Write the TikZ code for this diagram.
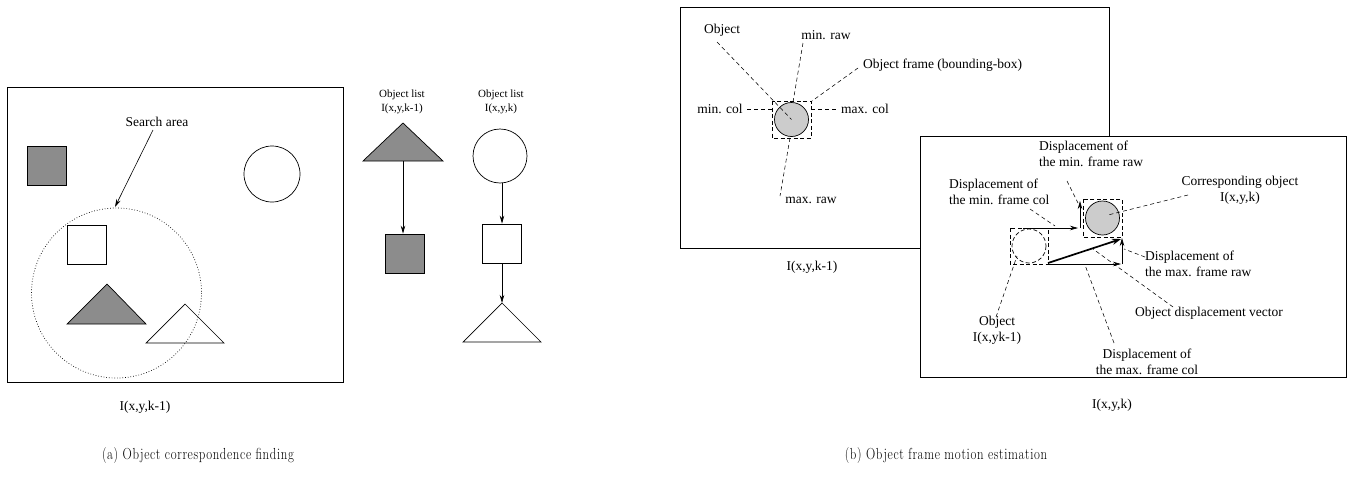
\documentclass[tikz,border=0pt]{standalone}
\usepackage{fontspec}
\setmainfont{Liberation Serif}
\newfontfamily\capfont[LetterSpace=5]{Latin Modern Roman}
\usetikzlibrary{arrows.meta}
\definecolor{dgray}{HTML}{8C8C8C}
\definecolor{lgray}{HTML}{CCCCCC}
\newcommand{\capbox}[1]{\scalebox{0.8}[1]{#1}}
\tikzset{
  frm/.style={draw, line width=0.8pt},
  shp/.style={draw, line width=0.7pt},
  sq/.style={shp, rectangle, minimum width=39pt, minimum height=39pt, inner sep=0pt},
  circ/.style={shp, circle, inner sep=0pt},
  lbl/.style={font=\fontsize{13.5}{16}\selectfont, inner sep=1pt},
  small/.style={font=\fontsize{11}{14}\selectfont, inner sep=1pt, align=center},
  capt/.style={font=\capfont\fontsize{16}{18}\selectfont},
  lead/.style={dash pattern=on 4pt off 3pt, line width=0.55pt},
  dbox/.style={draw, dash pattern=on 4pt off 2.5pt, line width=0.7pt},
  arr/.style={line width=0.7pt, -{Stealth[length=8pt,width=4.5pt]}},
  thick arr/.style={line width=1.7pt, -{Stealth[length=9pt,width=6pt]}},
}
\begin{document}
\begin{tikzpicture}[x=1pt,y=-1pt]
\useasboundingbox (0,0) rectangle (1349,477);
% ---------------- (a) ----------------
\draw[frm] (7,87) rectangle (343,382);
\node[sq, fill=dgray] (gsqA) at (47,166) {};
\node[circ, minimum size=56pt] (circA) at (272,174) {};
\draw[dotted, line width=0.7pt] (116.5,293) circle (85);
\node[sq] (wsqA) at (87,244.5) {};
\draw[shp, fill=dgray] (107,284) -- (67,324) -- (146,324) -- cycle;
\draw[shp] (185,304) -- (146,343) -- (224,343) -- cycle;
\node[lbl] (sa) at (157,122) {Search area};
\coordinate (saTip) at (115,207);
\draw[line width=0.6pt, -{Stealth[length=8pt,width=4.5pt]}] (153,130) -- (saTip);
\node[lbl] (capA1) at (145,407) {I(x,y,k-1)};
% object lists
\node[small] (ol1) at (402,102) {Object list\\I(x,y,k-1)};
\draw[shp, fill=dgray] (403,123) -- (363,161) -- (443,161) -- cycle;
\coordinate (tri1b) at (403,161);
\node[sq, fill=dgray] (gsq2) at (404.5,253.5) {};
\draw[arr] (tri1b) -- (gsq2.north -| tri1b);
\node[small] (ol2) at (501,102) {Object list\\I(x,y,k)};
\node[circ, minimum size=54pt] (c2) at (500,156) {};
\node[sq] (wsq2) at (502,243.5) {};
\draw[arr] (c2.south -| wsq2) -- (wsq2.north);
\draw[shp] (502,303) -- (463,342) -- (541,342) -- cycle;
\coordinate (tri2a) at (502,303);
\draw[arr] (wsq2.south) -- (tri2a);
\node[capt] (capA) at (198,456) {\capbox{(a) Object correspondence finding}};
% ---------------- (b) ----------------
\draw[frm] (680,7) rectangle (1109,248);
% back contents
\draw[dbox] (772,101) rectangle (811,138);
\node[circ, fill=lgray, minimum size=34pt] (objB) at (791.5,119.5) {};
\node[lbl] (tObj) at (722,30) {Object};
\node[lbl] (tMinRaw) at (826,35) {min. raw};
\node[lbl, anchor=west] (tFrame) at (862,65) {Object frame (bounding-box)};
\node[lbl] (tMinCol) at (720,109) {min. col};
\node[lbl] (tMaxCol) at (865,109) {max. col};
\node[lbl] (tMaxRaw) at (811,200) {max. raw};
\draw[lead] (717,42) -- (objB.center);
\draw[lead] (803,43) -- (793,102);
\draw[lead] (858,68) -- (812,101);
\draw[lead] (747,109) -- (772,109);
\draw[lead] (811,109) -- (838,109);
\draw[lead] (790,138) -- (780,196);
\node[lbl] (capB1) at (812,267) {I(x,y,k-1)};
% front frame
\draw[frm, fill=white] (920,136) rectangle (1346,377);
\draw[dbox] (1083,199) rectangle (1122,237);
\node[circ, fill=lgray, minimum size=34pt] (objC) at (1102.5,218) {};
\draw[dbox] (1010,228) rectangle (1048,264);
\draw[dbox] (1029,246) circle (17);
\coordinate (a1s) at (1023,228);
\coordinate (a1e) at (1078,228);
\coordinate (a2s) at (1080,228);
\coordinate (a2e) at (1080,201);
\coordinate (a3s) at (1048,264);
\coordinate (a3e) at (1121,264);
\coordinate (a4s) at (1122,264);
\coordinate (a4e) at (1122,238);
\draw[arr] (a1s) -- (a1e);
\draw[arr] (a2s) -- (a2e);
\draw[arr] (a3s) -- (a3e);
\draw[arr] (a4s) -- (a4e);
\draw[thick arr] (1048,263) -- (1121,239);
% labels
\node[lbl, align=left, anchor=west] (dMinRaw) at (1038,154) {Displacement of\\the min. frame raw};
\node[lbl, align=left, anchor=west] (dMinCol) at (948,192) {Displacement of\\the min. frame col};
\node[lbl, align=center] (corr) at (1240,190) {Corresponding object\\I(x,y,k)};
\node[lbl, align=left, anchor=west] (dMaxRaw) at (1144,264) {Displacement of\\the max. frame raw};
\node[lbl, anchor=west] (dVec) at (1134,313) {Object displacement vector};
\node[lbl, align=center] (objPrev) at (997,330) {Object\\I(x,yk-1)};
\node[lbl, align=center] (dMaxCol) at (1147,362) {Displacement of\\the max. frame col};
% leaders
\draw[lead] (1067,181) -- (1078,203);
\draw[lead] (1030,209) -- (1055,226);
\draw[lead] (1188,195) -- (1108,215);
\draw[lead] (1145,257) -- (1124,249);
\draw[lead] (1173,307) -- (1093,249);
\draw[lead] (1114,343) -- (1085,265);
\draw[lead] (996,317) -- (1017,256);
\node[lbl] (capB2) at (1112,405) {I(x,y,k)};
\node[capt] (capB) at (946,456) {\capbox{(b) Object frame motion estimation}};
\end{tikzpicture}
\end{document}
